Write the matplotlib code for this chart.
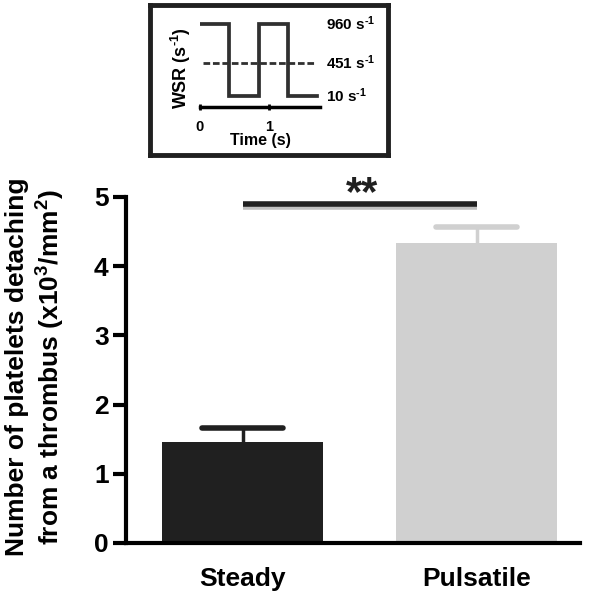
import matplotlib
matplotlib.use("Agg")
import matplotlib.pyplot as plt
import matplotlib.patheffects as pe

plt.rcParams['font.family'] = ['Liberation Sans', 'DejaVu Sans']
plt.rcParams['font.weight'] = 'bold'
plt.rcParams['mathtext.fontset'] = 'custom'
plt.rcParams['mathtext.rm'] = 'Liberation Sans:bold'
plt.rcParams['mathtext.bf'] = 'Liberation Sans:bold'
plt.rcParams['mathtext.it'] = 'Liberation Sans:bold'
plt.rcParams['mathtext.default'] = 'bf'

# Data
categories = ["Steady", "Pulsatile"]
means = [1.46, 4.34]
err_up = [0.20, 0.23]
bar_colors = ["#202020", "#d0d0d0"]
sig_level = 4.9
sig_text = "**"
yticks = [0, 1, 2, 3, 4, 5]

# Inset data (wall shear rate waveform)
pulse_t = [0, 0.42, 0.42, 0.86, 0.86, 1.27, 1.27, 1.70]
pulse_wsr = [960, 960, 10, 10, 960, 960, 10, 10]
steady_t = [0.05, 1.68]
steady_wsr = [451, 451]
wsr_labels = [(960, r"960 s$^{\text{-1}}$"), (451, r"451 s$^{\text{-1}}$"), (10, r"10 s$^{\text{-1}}$")]
inset_xticks = [0, 1]

W, H = 592, 605
fig = plt.figure(figsize=(W / 100, H / 100), dpi=100)

def fx(px):
    return px / W

def fy(py):
    return 1 - py / H

# Main axes
ax = fig.add_axes([fx(126), fy(543), fx(580) - fx(126), fy(197) - fy(543)])
x = [0, 1]
bar_w = 0.69
cap_half = 0.173
ax.bar(x, means, width=bar_w, color=bar_colors, zorder=2)
for xi, m, e, c in zip(x, means, err_up, bar_colors):
    ax.vlines(xi, m, m + e, color=c, lw=2.5, zorder=1)
    ax.hlines(m + e, xi - cap_half, xi + cap_half, color=c, lw=4, zorder=1,
              capstyle='round')
ax.set_xlim(-0.498, 1.442)
ax.set_ylim(0, 5)
ax.set_yticks(yticks)
ax.set_xticks(x)
ax.set_xticklabels(categories, fontsize=19, fontweight='bold')
ax.tick_params(axis='x', length=0, pad=17)
ax.tick_params(axis='y', length=9.5, width=3, labelsize=19, pad=3)
for lab in ax.get_yticklabels():
    lab.set_fontweight('bold')
ax.spines['top'].set_visible(False)
ax.spines['right'].set_visible(False)
ax.spines['left'].set_linewidth(3)
ax.spines['bottom'].set_linewidth(3)
fig.text(fx(36), fy(367), "Number of platelets detaching\nfrom a thrombus (x10$^3$/mm$^2$)",
         rotation=90, ha='center', va='center', multialignment='center',
         fontsize=19, fontweight='bold', linespacing=1.2)

# significance bar
ln, = ax.plot([0, 1], [sig_level, sig_level], color='#202020', lw=4,
              solid_capstyle='butt', clip_on=False, zorder=3)
ln.set_path_effects([pe.SimpleLineShadow(offset=(0.5, -2.5), shadow_color='gray', alpha=0.5),
                     pe.Normal()])
ax.annotate(sig_text, xy=(0.51, sig_level), xytext=(0, -1), textcoords='offset points',
            ha='center', va='baseline', fontsize=30, fontweight='bold', color='#202020',
            annotation_clip=False)

# Inset box
box = fig.add_axes([fx(150), fy(155), fx(388) - fx(150), fy(5) - fy(155)])
box.set_xticks([])
box.set_yticks([])
for s in box.spines.values():
    s.set_linewidth(3.5)
    s.set_color('#202020')
box.patch.set_alpha(0)

# Inset plot
ins = fig.add_axes([fx(200), fy(107), fx(320) - fx(200), fy(20) - fy(107)])
ins.patch.set_alpha(0)
ins.plot(pulse_t, pulse_wsr, color='#303030', lw=2.7, solid_joinstyle='miter')
ins.plot(steady_t, steady_wsr, color='#303030', lw=2, ls=(0, (2.4, 1)))
ins.set_xlim(0, 1.74)
ins.set_ylim(-135, 1013)
ins.set_xticks(inset_xticks)
ins.set_xticklabels([str(v) for v in inset_xticks], fontsize=10.5, fontweight='bold')
ins.set_yticks([])
ins.tick_params(axis='x', length=5, width=2, direction='inout', pad=7)
for s in ['top', 'right', 'left']:
    ins.spines[s].set_visible(False)
ins.spines['bottom'].set_linewidth(2.5)
ins.set_xlabel("Time (s)", fontsize=11.5, fontweight='bold', labelpad=-1)
ins.set_ylabel(r"WSR (s$^{\text{-1}}$)", fontsize=13, fontweight='bold', labelpad=6)
ins.yaxis.set_label_coords(-0.06, 0.45)
for val, txt in wsr_labels:
    ins.text(1.82, val, txt, ha='left', va='center', fontsize=11, fontweight='bold',
             clip_on=False)

fig.savefig("out.png", dpi=100)
